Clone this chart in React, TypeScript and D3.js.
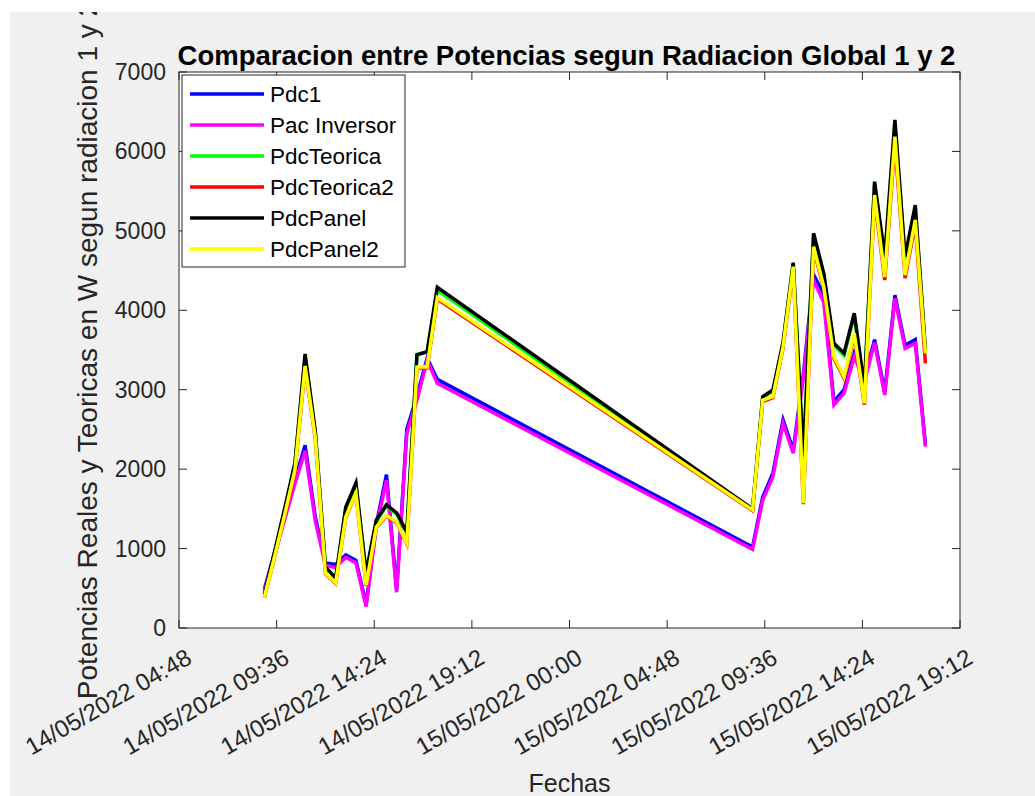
import React from "react";
import * as d3 from "d3";

// ---- data ----
const times = [
  "2022-05-14 09:00", "2022-05-14 09:30", "2022-05-14 10:00", "2022-05-14 10:30",
  "2022-05-14 11:00", "2022-05-14 11:30", "2022-05-14 12:00", "2022-05-14 12:30",
  "2022-05-14 13:00", "2022-05-14 13:30", "2022-05-14 14:00", "2022-05-14 14:30",
  "2022-05-14 15:00", "2022-05-14 15:30", "2022-05-14 16:00", "2022-05-14 16:30",
  "2022-05-14 17:00", "2022-05-14 17:30",
  "2022-05-15 09:00", "2022-05-15 09:30", "2022-05-15 10:00", "2022-05-15 10:30",
  "2022-05-15 11:00", "2022-05-15 11:30", "2022-05-15 12:00", "2022-05-15 12:30",
  "2022-05-15 13:00", "2022-05-15 13:30", "2022-05-15 14:00", "2022-05-15 14:30",
  "2022-05-15 15:00", "2022-05-15 15:30", "2022-05-15 16:00", "2022-05-15 16:30",
  "2022-05-15 17:00", "2022-05-15 17:30",
];

const pdc1 = [
  490, 950, 1400, 1860, 2300, 1400, 820, 800, 920, 850, 300, 1300, 1930, 480, 2500, 2920, 3400, 3130,
  1020, 1650, 1950, 2620, 2240, 3200, 4450, 4200, 2850, 3000, 3460, 3150, 3630, 2970, 4190, 3560, 3630, 2310,
];
const pacInversor = [
  460, 920, 1370, 1820, 2230, 1350, 790, 760, 890, 820, 270, 1270, 1860, 450, 2450, 2870, 3370, 3080,
  990, 1610, 1905, 2577, 2200, 3150, 4380, 4100, 2807, 2958, 3416, 3100, 3592, 2933, 4150, 3521, 3584, 2283,
];
const pdcTeorica = [
  405, 945, 1495, 2065, 3410, 2460, 765, 625, 1505, 1805, 685, 1345, 1535, 1435, 1200, 3445, 3475, 4250,
  1495, 2900, 2985, 3585, 4585, 2140, 4940, 4440, 3560, 3430, 3940, 3020, 5590, 4650, 6350, 4650, 5290, 3480,
];
const pdcTeorica2 = [
  385, 892, 1422, 1975, 3285, 2385, 682, 560, 1392, 1692, 532, 1262, 1412, 1325, 1062, 3272, 3275, 4140,
  1478, 2855, 2900, 3525, 4530, 1560, 4775, 4275, 3395, 3145, 3685, 2812, 5410, 4380, 6110, 4405, 5090, 3332,
];
const pdcPanel = [
  420, 960, 1510, 2080, 3450, 2480, 770, 630, 1523, 1825, 690, 1360, 1550, 1450, 1210, 3440, 3480, 4290,
  1500, 2912, 2996, 3600, 4600, 2157, 4970, 4466, 3584, 3460, 3962, 3038, 5620, 4675, 6396, 4675, 5325, 3500,
];
const pdcPanel2 = [
  390, 900, 1430, 1990, 3300, 2400, 690, 567, 1400, 1700, 540, 1270, 1420, 1335, 1070, 3285, 3285, 4160,
  1486, 2870, 2912, 3541, 4550, 1570, 4800, 4297, 3416, 3164, 3710, 2829, 5451, 4420, 6186, 4444, 5137, 3458,
];

const seriesNames = ["Pdc1", "Pac Inversor", "PdcTeorica", "PdcTeorica2", "PdcPanel", "PdcPanel2"];
const seriesColors = ["#0000ff", "#ff00ff", "#00ff00", "#ff0000", "#000000", "#ffff00"];
const seriesValues = [pdc1, pacInversor, pdcTeorica, pdcTeorica2, pdcPanel, pdcPanel2];

const xTickLabels = [
  "14/05/2022 04:48", "14/05/2022 09:36", "14/05/2022 14:24", "14/05/2022 19:12",
  "15/05/2022 00:00", "15/05/2022 04:48", "15/05/2022 09:36", "15/05/2022 14:24",
  "15/05/2022 19:12",
];
const yTicks = [0, 1000, 2000, 3000, 4000, 5000, 6000, 7000];

const titleText = "Comparacion entre Potencias segun Radiacion Global 1 y 2";
const xLabelText = "Fechas";
const yLabelText = "Potencias Reales y Teoricas en W segun radiacion 1 y 2";

// ---- layout ----
const W = 1035;
const H = 796;
const L = 179, R = 960, T = 72, B = 628;
const FONT = "'Liberation Sans', Arial, Helvetica, sans-serif";
const AX = "#262626";

const parseData = d3.utcParse("%Y-%m-%d %H:%M");
const parseTick = d3.utcParse("%d/%m/%Y %H:%M");

export default function App() {
  const dates = times.map((t) => parseData(t) as Date);
  const tickDates = xTickLabels.map((t) => parseTick(t) as Date);
  const x = d3.scaleUtc().domain([tickDates[0], tickDates[tickDates.length - 1]]).range([L, R]);
  const y = d3.scaleLinear().domain([0, 7000]).range([B, T]);
  const line = d3
    .line<number>()
    .x((_, i) => x(dates[i]))
    .y((v) => y(v));

  const legX = 182, legY = 75, legW = 223, legH = 192;
  const rowH = 31;

  return (
    <svg
      width={W}
      height={H}
      style={{ position: "absolute", left: 0, top: 0, background: "#fff" }}
      fontFamily={FONT}
    >
      <defs>
        <clipPath id="fig">
          <rect x={10} y={12} width={W - 10} height={H - 12} />
        </clipPath>
      </defs>
      <g clipPath="url(#fig)">
        <rect x={10} y={12} width={W - 10} height={H - 12} fill="#f0f0f0" />
        <rect x={L} y={T} width={R - L} height={B - T} fill="#fff" />

        {/* series */}
        {seriesValues.map((vals, si) => (
          <path
            key={seriesNames[si]}
            d={line(vals) || ""}
            fill="none"
            stroke={seriesColors[si]}
            strokeWidth={3.5}
          />
        ))}

        {/* axes box */}
        <rect x={L} y={T} width={R - L} height={B - T} fill="none" stroke={AX} strokeWidth={1} />

        {/* x ticks */}
        {tickDates.map((d, i) => {
          const px = x(d);
          return (
            <g key={"xt" + i}>
              <line x1={px} x2={px} y1={B} y2={B - 8} stroke={AX} />
              <line x1={px} x2={px} y1={T} y2={T + 8} stroke={AX} />
              <text
                transform={`translate(${px + 10},${B + 27}) rotate(-30)`}
                textAnchor="end"
                dominantBaseline="central"
                fontSize={24}
                fill={AX}
              >
                {xTickLabels[i]}
              </text>
            </g>
          );
        })}

        {/* y ticks */}
        {yTicks.map((v) => {
          const py = y(v);
          return (
            <g key={"yt" + v}>
              <line x1={L} x2={L + 8} y1={py} y2={py} stroke={AX} />
              <line x1={R} x2={R - 8} y1={py} y2={py} stroke={AX} />
              <text
                x={L - 13}
                y={py}
                textAnchor="end"
                dominantBaseline="central"
                fontSize={23}
                fill={AX}
              >
                {v}
              </text>
            </g>
          );
        })}

        {/* title */}
        <text
          x={(L + R) / 2 - 3}
          y={65}
          textAnchor="middle"
          fontSize={27.5}
          fontWeight="bold"
          fill="#000"
        >
          {titleText}
        </text>

        {/* x label */}
        <text x={(L + R) / 2} y={792} textAnchor="middle" fontSize={25} fill={AX}>
          {xLabelText}
        </text>

        {/* y label */}
        <text
          transform={`translate(97,${(T + B) / 2}) rotate(-90)`}
          textAnchor="middle"
          fontSize={28}
          fill={AX}
        >
          {yLabelText}
        </text>

        {/* legend */}
        <rect x={legX} y={legY} width={legW} height={legH} fill="#fff" stroke={AX} strokeWidth={1} />
        {seriesNames.map((name, i) => {
          const cy = legY + 19 + i * rowH;
          return (
            <g key={"lg" + name}>
              <line x1={190} x2={264} y1={cy} y2={cy} stroke={seriesColors[i]} strokeWidth={3.5} />
              <text x={270} y={cy} dominantBaseline="central" fontSize={22.5} fill="#000">
                {name}
              </text>
            </g>
          );
        })}
      </g>
    </svg>
  );
}
